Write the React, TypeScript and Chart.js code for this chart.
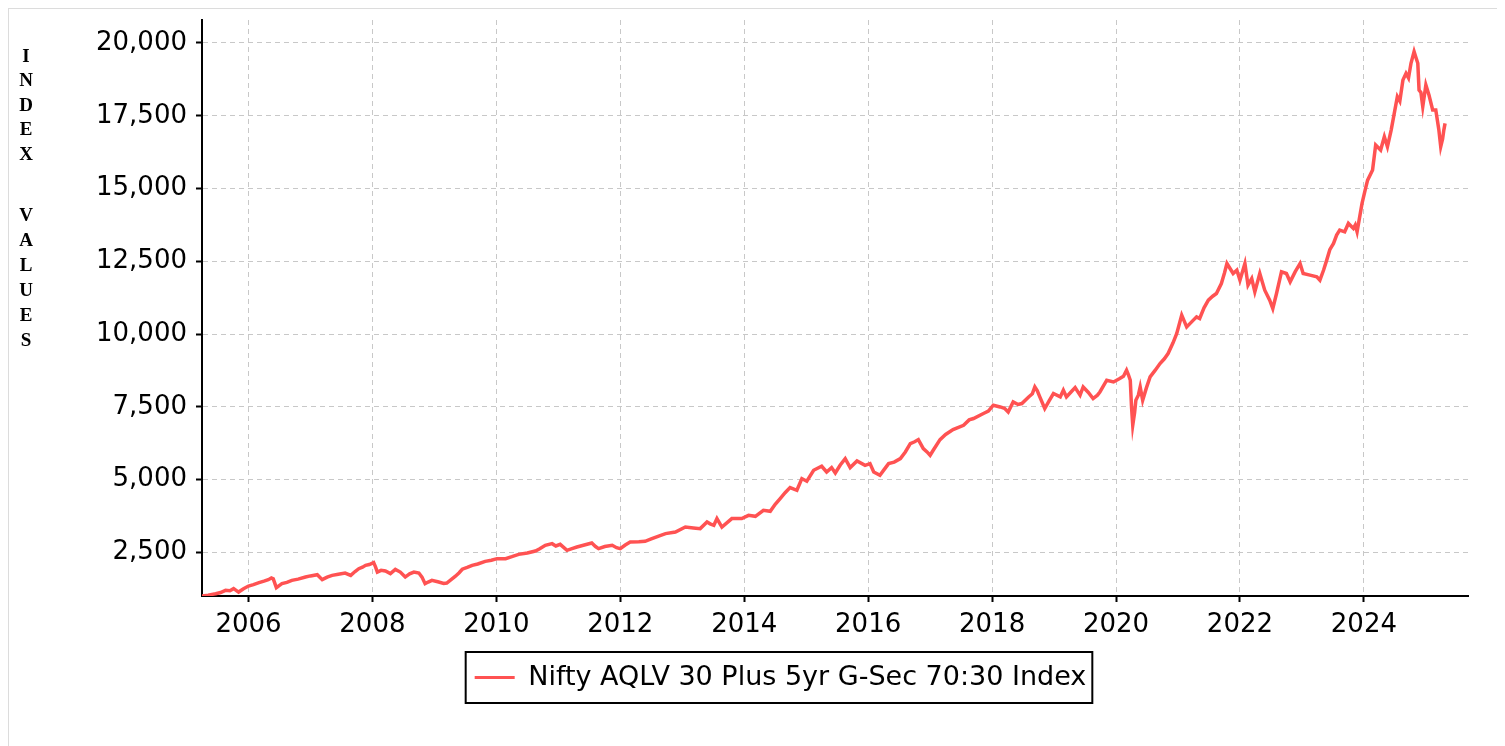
import React, { useEffect, useRef } from 'react';
import { Chart, registerables } from 'chart.js';

Chart.register(...registerables);

const SERIES_LABEL = 'Nifty AQLV 30 Plus 5yr G-Sec 70:30 Index';
const Y_TITLE = 'INDEX VALUES';
const LINE_COLOR = '#ff5252';

// decimal years
const dates = [
  2005.25, 2005.35, 2005.47, 2005.55, 2005.63, 2005.7, 2005.76, 2005.84, 2005.92, 2006.0,
  2006.08, 2006.17, 2006.25, 2006.32, 2006.37, 2006.4, 2006.45, 2006.49, 2006.54, 2006.62,
  2006.7, 2006.8, 2006.92, 2007.0, 2007.11, 2007.19, 2007.27, 2007.35, 2007.45, 2007.56,
  2007.65, 2007.72, 2007.78, 2007.84, 2007.89, 2007.95, 2008.02, 2008.05, 2008.08, 2008.14,
  2008.21, 2008.29, 2008.37, 2008.45, 2008.53, 2008.6, 2008.67, 2008.75, 2008.8, 2008.85,
  2008.9, 2008.96, 2009.07, 2009.15, 2009.2, 2009.27, 2009.34, 2009.4, 2009.45, 2009.53,
  2009.61, 2009.7, 2009.82, 2009.92, 2010.01, 2010.15, 2010.25, 2010.36, 2010.5, 2010.63,
  2010.7, 2010.79, 2010.9, 2010.96, 2011.03, 2011.14, 2011.22, 2011.3, 2011.42, 2011.54,
  2011.6, 2011.65, 2011.75, 2011.87, 2011.94, 2012.0, 2012.08, 2012.16, 2012.3, 2012.4,
  2012.51, 2012.62, 2012.73, 2012.89, 2013.05, 2013.18, 2013.29, 2013.4, 2013.45, 2013.51,
  2013.56, 2013.64, 2013.8, 2013.96, 2014.07, 2014.18, 2014.31, 2014.42, 2014.5, 2014.58,
  2014.66, 2014.74, 2014.85, 2014.93, 2015.01, 2015.12, 2015.25, 2015.33, 2015.41, 2015.47,
  2015.55, 2015.63, 2015.71, 2015.82, 2015.95, 2016.03, 2016.09, 2016.19, 2016.26, 2016.33,
  2016.42, 2016.52, 2016.6, 2016.68, 2016.75, 2016.81, 2016.89, 2016.95, 2017.0, 2017.05,
  2017.16, 2017.25, 2017.37, 2017.54, 2017.63, 2017.7, 2017.86, 2017.94, 2018.02, 2018.13,
  2018.2, 2018.26, 2018.34, 2018.42, 2018.48, 2018.59, 2018.65, 2018.69, 2018.73, 2018.77,
  2018.85, 2018.92, 2018.99, 2019.1, 2019.15, 2019.2, 2019.27, 2019.34, 2019.42, 2019.47,
  2019.55, 2019.63, 2019.7, 2019.74, 2019.85, 2019.96, 2020.06, 2020.12, 2020.17, 2020.2,
  2020.23, 2020.25, 2020.27, 2020.3, 2020.32, 2020.36, 2020.39, 2020.43, 2020.49, 2020.55,
  2020.63, 2020.71, 2020.78, 2020.84, 2020.92, 2020.98, 2021.06, 2021.14, 2021.22, 2021.3,
  2021.35, 2021.42, 2021.49, 2021.56, 2021.62, 2021.7, 2021.75, 2021.79, 2021.84, 2021.89,
  2021.95, 2022.0, 2022.08, 2022.13, 2022.19, 2022.24, 2022.32, 2022.4, 2022.48, 2022.53,
  2022.59, 2022.67, 2022.75, 2022.81, 2022.89, 2022.97, 2023.02, 2023.13, 2023.24, 2023.29,
  2023.35, 2023.4, 2023.45, 2023.51, 2023.56, 2023.61, 2023.69, 2023.75, 2023.83, 2023.86,
  2023.89, 2023.93, 2023.97, 2024.02, 2024.06, 2024.14, 2024.19, 2024.27, 2024.33, 2024.38,
  2024.44, 2024.49, 2024.54, 2024.58, 2024.63, 2024.68, 2024.72, 2024.76, 2024.81, 2024.84,
  2024.87, 2024.89, 2024.92, 2024.95, 2025.0, 2025.05, 2025.11, 2025.16, 2025.21, 2025.24,
  2025.27, 2025.29, 2025.31,
];

const indexValues = [
  1000, 1030, 1080, 1120, 1194, 1180, 1252, 1135, 1250, 1341,
  1390, 1458, 1510, 1560, 1617, 1590, 1286, 1350, 1424, 1470,
  1537, 1580, 1651, 1690, 1733, 1561, 1650, 1709, 1750, 1789,
  1709, 1840, 1939, 1990, 2053, 2080, 2146, 2000, 1823, 1880,
  1857, 1768, 1916, 1823, 1651, 1760, 1823, 1789, 1650, 1424,
  1480, 1537, 1479, 1430, 1445, 1560, 1680, 1800, 1920, 1980,
  2053, 2100, 2190, 2230, 2283, 2283, 2350, 2431, 2480, 2545,
  2620, 2741, 2799, 2720, 2775, 2569, 2630, 2683, 2750, 2820,
  2700, 2627, 2700, 2741, 2660, 2627, 2750, 2854, 2860, 2878,
  2971, 3060, 3143, 3198, 3370, 3340, 3315, 3542, 3480, 3428,
  3659, 3370, 3659, 3659, 3772, 3738, 3944, 3909, 4150, 4346,
  4550, 4724, 4632, 5034, 4941, 5319, 5457, 5261, 5412, 5226,
  5500, 5721, 5412, 5639, 5491, 5549, 5261, 5147, 5350, 5549,
  5600, 5721, 5950, 6237, 6300, 6374, 6065, 5950, 5835, 6007,
  6374, 6550, 6718, 6866, 7050, 7097, 7269, 7350, 7554, 7496,
  7450, 7324, 7668, 7580, 7612, 7840, 7950, 8183, 8050, 7840,
  7440, 7700, 7956, 7840, 8070, 7840, 8000, 8162, 7898, 8183,
  8000, 7784, 7900, 8011, 8413, 8355, 8472, 8550, 8757, 8600,
  8413, 7500, 6866, 7300, 7726, 7900, 8183, 7726, 8150, 8527,
  8750, 8988, 9150, 9331, 9700, 10019, 10648, 10246, 10418, 10590,
  10534, 10900, 11164, 11300, 11393, 11737, 12100, 12425, 12253, 12081,
  12195, 11851, 12425, 11680, 11909, 11450, 12081, 11507, 11164, 10878,
  11393, 12137, 12081, 11794, 12137, 12425, 12081, 12023, 11966, 11851,
  12200, 12540, 12900, 13114, 13400, 13570, 13512, 13801, 13629, 13742,
  13512, 14000, 14489, 14946, 15289, 15634, 16493, 16321, 16779, 16435,
  17008, 17582, 18155, 18000, 18728, 18958, 18800, 19302, 19703, 19500,
  19302, 18384, 18300, 17811, 18556, 18212, 17697, 17697, 17008, 16435,
  16700, 17008, 17238,
];

const xTickYears = [2006, 2008, 2010, 2012, 2014, 2016, 2018, 2020, 2022, 2024];
const yTickValues = [2500, 5000, 7500, 10000, 12500, 15000, 17500, 20000];

const X_MIN = 2005.25;
const X_MAX = 2025.68;
const Y_MIN = 1000;
const Y_MAX = 20790;

const TICK_FONT = { family: 'DejaVu Sans', size: 26 };
const LEGEND_FONT = { family: 'DejaVu Sans', size: 27 };

const yTitlePlugin = {
  id: 'yTitleStacked',
  afterDraw(chart: any) {
    const ctx = chart.ctx;
    ctx.save();
    ctx.font = 'bold 19px "Liberation Serif", "Times New Roman", serif';
    ctx.fillStyle = '#000';
    ctx.textAlign = 'center';
    ctx.textBaseline = 'middle';
    const words = Y_TITLE.split(' ');
    const starts = [48, 207];
    const steps = [24.5, 25];
    words.forEach((w, wi) => {
      w.split('').forEach((ch, ci) => {
        ctx.fillText(ch, 17, starts[wi] + ci * steps[wi]);
      });
    });
    ctx.restore();
  },
};

const legendBorderPlugin = {
  id: 'legendBorder',
  afterDraw(chart: any) {
    const lg = chart.legend;
    if (!lg || !lg.legendHitBoxes || !lg.legendHitBoxes.length) return;
    const hb = lg.legendHitBoxes[0];
    const ctx = chart.ctx;
    ctx.save();
    ctx.strokeStyle = '#000';
    ctx.lineWidth = 2;
    ctx.strokeRect(hb.left - 9, hb.top - 12, hb.width + 15, hb.height + 24);
    ctx.restore();
  },
};

export default function App() {
  const ref = useRef<HTMLCanvasElement | null>(null);

  useEffect(() => {
    document.body.style.overflow = 'hidden';
    const canvas = ref.current;
    if (!canvas) return;
    const chart = new Chart(canvas, {
      type: 'line',
      data: {
        datasets: [
          {
            label: SERIES_LABEL,
            data: dates.map((d, i) => ({ x: d, y: indexValues[i] })),
            borderColor: LINE_COLOR,
            backgroundColor: LINE_COLOR,
            borderWidth: 3.5,
            pointRadius: 0,
            tension: 0,
            fill: false,
          },
        ],
      },
      options: {
        animation: false,
        responsive: false,
        devicePixelRatio: 1,
        layout: { padding: { left: 84, right: 32, top: 11, bottom: 38 } },
        plugins: {
          tooltip: { enabled: false },
          legend: {
            position: 'bottom',
            labels: {
              font: LEGEND_FONT,
              color: '#000',
              boxWidth: 40,
              boxHeight: 3,
              padding: 10,
              generateLabels: (c: any) => {
                const items = (Chart as any).defaults.plugins.legend.labels.generateLabels(c);
                items.forEach((it: any) => {
                  it.lineWidth = 0;
                  it.fillStyle = LINE_COLOR;
                });
                return items;
              },
            },
          },
        },
        scales: {
          x: {
            type: 'linear',
            min: X_MIN,
            max: X_MAX,
            afterFit: (s: any) => {
              s.height = 58;
              s.paddingLeft = 0;
              s.paddingRight = 0;
            },
            afterBuildTicks: (s: any) => {
              s.ticks = xTickYears.map((v) => ({ value: v }));
            },
            ticks: {
              autoSkip: false,
              maxRotation: 0,
              padding: 8,
              color: '#000',
              font: TICK_FONT,
              callback: (v: any) => String(v),
            },
            grid: {
              color: '#c8c8c8',
              lineWidth: 1,
              tickLength: 6,
              tickColor: '#000',
              tickWidth: 2,
              tickBorderDash: [],
            },
            border: { display: true, color: '#000', width: 2, dash: [5, 4] },
          },
          y: {
            type: 'linear',
            min: Y_MIN,
            max: Y_MAX,
            afterFit: (s: any) => {
              s.width = 109;
              s.paddingTop = 0;
              s.paddingBottom = 0;
            },
            afterBuildTicks: (s: any) => {
              s.ticks = yTickValues.map((v) => ({ value: v }));
            },
            ticks: {
              autoSkip: false,
              padding: 9,
              color: '#000',
              font: TICK_FONT,
              callback: (v: any) => Number(v).toLocaleString('en-US'),
            },
            grid: {
              color: '#c8c8c8',
              lineWidth: 1,
              tickLength: 6,
              tickColor: '#000',
              tickWidth: 2,
              tickBorderDash: [],
            },
            border: { display: true, color: '#000', width: 2, dash: [5, 4] },
          },
        },
      },
      plugins: [yTitlePlugin, legendBorderPlugin],
    } as any);
    return () => chart.destroy();
  }, []);

  return (
    <div
      style={{
        border: '1px solid #dcdcdc',
        width: 1491,
        height: 760,
        boxSizing: 'content-box',
        background: '#fff',
      }}
    >
      <canvas ref={ref} width={1491} height={730} style={{ display: 'block' }} />
    </div>
  );
}
